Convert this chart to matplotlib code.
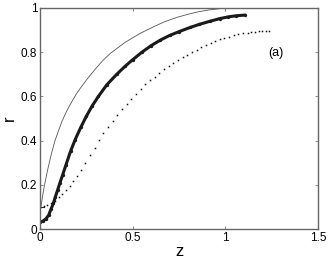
import matplotlib
matplotlib.use("Agg")
import matplotlib.pyplot as plt

plt.rcParams['font.family'] = ['Liberation Sans', 'DejaVu Sans']

# thin solid curve
thin_z = [0.003, 0.02, 0.041, 0.063, 0.081, 0.10, 0.12, 0.145, 0.171, 0.195, 0.22, 0.245,
          0.27, 0.305, 0.342, 0.38, 0.42, 0.46, 0.5, 0.54, 0.576, 0.62, 0.67, 0.74,
          0.8, 0.85, 0.91, 0.97, 1.03, 1.1]
thin_r = [0.09, 0.18, 0.267, 0.345, 0.40, 0.445, 0.49, 0.535, 0.575, 0.61, 0.64, 0.668,
          0.695, 0.73, 0.765, 0.795, 0.82, 0.845, 0.865, 0.885, 0.9, 0.918, 0.937, 0.958,
          0.972, 0.982, 0.991, 0.997, 1.0, 1.0]

# thick dense-marker curve
thick_z = [0.0, 0.016, 0.032, 0.047, 0.059, 0.072, 0.083, 0.095, 0.108, 0.122, 0.14,
           0.165, 0.189, 0.22, 0.25, 0.28, 0.315, 0.36, 0.414, 0.46, 0.5, 0.55, 0.6,
           0.65, 0.7, 0.75, 0.81, 0.86, 0.917, 0.97, 1.016, 1.06, 1.107]
thick_r = [0.030, 0.036, 0.046, 0.063, 0.089, 0.116, 0.146, 0.176, 0.21, 0.244, 0.29,
           0.352, 0.403, 0.46, 0.51, 0.555, 0.600, 0.652, 0.700, 0.737, 0.766, 0.80, 0.83,
           0.855, 0.876, 0.893, 0.912, 0.926, 0.94, 0.952, 0.96, 0.965, 0.968]

# sparse dotted curve
dot_z = [0.0, 0.02, 0.04, 0.06, 0.08, 0.10, 0.12, 0.14, 0.16, 0.18, 0.20, 0.22, 0.245,
         0.27, 0.295, 0.32, 0.342, 0.368, 0.392, 0.417, 0.443, 0.468, 0.493, 0.518,
         0.543, 0.568, 0.594, 0.619, 0.644, 0.669, 0.694, 0.719, 0.745, 0.77, 0.795,
         0.82, 0.845, 0.87, 0.895, 0.92, 0.945, 0.97, 0.995, 1.02, 1.045, 1.07, 1.095,
         1.12, 1.14, 1.16, 1.18, 1.2, 1.22, 1.237]
dot_r = [0.100, 0.103, 0.108, 0.116, 0.128, 0.143, 0.158, 0.176, 0.196, 0.218, 0.242,
         0.268, 0.30, 0.335, 0.368, 0.403, 0.433, 0.463, 0.490, 0.517, 0.543, 0.567,
         0.590, 0.612, 0.633, 0.654, 0.672, 0.690, 0.706, 0.723, 0.738, 0.753, 0.765,
         0.777, 0.789, 0.800, 0.811, 0.822, 0.832, 0.841, 0.850, 0.858, 0.865, 0.871,
         0.877, 0.882, 0.886, 0.889, 0.891, 0.893, 0.895, 0.896, 0.897, 0.898]

xticks = [0, 0.5, 1, 1.5]
xticklabels = ['0', '0.5', '1', '1.5']
yticks = [0, 0.2, 0.4, 0.6, 0.8, 1]
yticklabels = ['0', '0.2', '0.4', '0.6', '0.8', '1']

fig = plt.figure(figsize=(3.30, 2.59), dpi=100)
ax = fig.add_axes([40/330, 1 - 229/259, 278/330, 221/259])

ax.plot(thin_z, thin_r, '-', color='#555555', lw=0.6)
ax.plot(thick_z, thick_r, '-', color='#1a1a1a', lw=2.2, solid_capstyle='round',
        solid_joinstyle='round')
ax.plot(thick_z, thick_r, 'o', color='#1a1a1a', ms=2.4, mew=0)
ax.plot([0, 0.02], [0.1, 0.1], '-', color='#222222', lw=0.8)
ax.plot(dot_z, dot_r, 's', color='#111111', ms=1.1, mew=0, linestyle='none')

ax.set_xlim(0, 1.5)
ax.set_ylim(0, 1)
ax.set_xticks(xticks)
ax.set_xticklabels(xticklabels)
ax.set_yticks(yticks)
ax.set_yticklabels(yticklabels)
ax.tick_params(direction='in', length=2.5, width=0.6, colors='#777777',
               labelcolor='black', labelsize=8.5, top=True, right=True, pad=2)
for s in ax.spines.values():
    s.set_color('#666666')
    s.set_linewidth(1.0)

ax.set_xlabel('z', fontsize=12, labelpad=0)
ax.set_ylabel('r', fontsize=12, labelpad=3)
ax.text(1.273, 0.796, '(a)', fontsize=9, ha='center', va='center')

fig.savefig('out.png', dpi=100)
